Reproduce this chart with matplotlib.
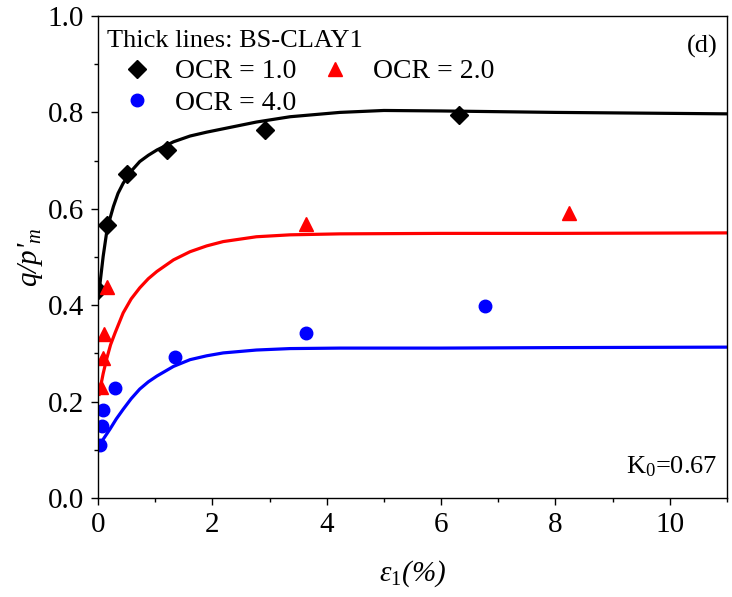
import numpy as np
import matplotlib
matplotlib.use("Agg")
import matplotlib.pyplot as plt

plt.rcParams['font.family'] = 'Liberation Serif'
plt.rcParams['mathtext.fontset'] = 'custom'
plt.rcParams['mathtext.rm'] = 'Liberation Serif'
plt.rcParams['mathtext.it'] = 'Liberation Serif:italic'

# measured points
ocr1_x = [0.0, 0.16, 0.51, 1.20, 2.92, 6.31]
ocr1_y = [0.432, 0.567, 0.673, 0.722, 0.763, 0.795]
ocr2_x = [0.06, 0.09, 0.10, 0.15, 3.64, 8.24]
ocr2_y = [0.230, 0.290, 0.341, 0.437, 0.569, 0.592]
ocr4_x = [0.03, 0.07, 0.09, 0.30, 1.35, 3.63, 6.77]
ocr4_y = [0.110, 0.150, 0.183, 0.229, 0.292, 0.343, 0.398]

# BS-CLAY1 model curves
model1_x = [0.0, 0.035, 0.09, 0.15, 0.21, 0.27, 0.35, 0.44, 0.58, 0.73, 0.88, 1.03, 1.32, 1.61, 1.9, 2.19, 2.77, 3.36, 4.23, 5.0, 6.0, 8.0, 11.0]
model1_y = [0.415, 0.445, 0.501, 0.550, 0.580, 0.605, 0.632, 0.653, 0.678, 0.698, 0.711, 0.722, 0.739, 0.751, 0.759, 0.766, 0.780, 0.791, 0.800, 0.804, 0.803, 0.800, 0.797]
model2_x = [0.02, 0.035, 0.09, 0.15, 0.22, 0.30, 0.44, 0.58, 0.73, 0.88, 1.03, 1.32, 1.61, 1.9, 2.19, 2.77, 3.36, 4.23, 6.0, 8.0, 11.0]
model2_y = [0.215, 0.225, 0.258, 0.288, 0.318, 0.343, 0.384, 0.413, 0.436, 0.455, 0.470, 0.494, 0.511, 0.523, 0.532, 0.542, 0.546, 0.548, 0.549, 0.549, 0.550]
model4_x = [0.035, 0.12, 0.21, 0.32, 0.44, 0.58, 0.73, 0.88, 1.03, 1.32, 1.61, 1.9, 2.19, 2.77, 3.36, 4.23, 6.0, 8.0, 11.0]
model4_y = [0.112, 0.127, 0.143, 0.164, 0.184, 0.206, 0.226, 0.241, 0.253, 0.273, 0.287, 0.295, 0.301, 0.307, 0.310, 0.311, 0.311, 0.312, 0.313]

fig = plt.figure(figsize=(7.32, 5.97), dpi=100)
ax = fig.add_axes([98/732, 1-498/597, 629/732, 482/597])

ax.plot(model1_x, model1_y, color='black', lw=2.3)
ax.plot(model2_x, model2_y, color='#ff0000', lw=2.3)
ax.plot(model4_x, model4_y, color='#0000ff', lw=2.3)

h1, = ax.plot(ocr1_x, ocr1_y, 'D', color='black', ms=9, ls='none', label='OCR = 1.0')
h2, = ax.plot(ocr2_x, ocr2_y, '^', color='#ff0000', ms=9.5, ls='none', label='OCR = 2.0')
h4, = ax.plot(ocr4_x, ocr4_y, 'o', color='#0000ff', ms=9, ls='none', label='OCR = 4.0')

ax.set_xlim(0, 11)
ax.set_ylim(0, 1.0)
ax.set_xticks([0, 2, 4, 6, 8, 10])
ax.set_xticks([1, 3, 5, 7, 9, 11], minor=True)
ax.set_yticks([0.0, 0.2, 0.4, 0.6, 0.8, 1.0])
ax.set_yticks([0.1, 0.3, 0.5, 0.7, 0.9], minor=True)
ax.set_yticklabels(['0.0', '0.2', '0.4', '0.6', '0.8', '1.0'])
ax.tick_params(which='both', direction='out', labelsize=21, width=1, top=False, right=False, pad=5)
ax.tick_params(which='major', length=5)
ax.tick_params(which='minor', length=3)
for s in ax.spines.values():
    s.set_linewidth(1)

ax.set_xlabel("ε$_{\\mathit{1}}$(%)", fontsize=21, style='italic', labelpad=15)
ax.set_ylabel("q/p'$_{m}$", fontsize=21, style='italic', labelpad=2)

leg = ax.legend(handles=[h1, h4, h2], ncol=2, loc='upper left', bbox_to_anchor=(-0.005, 0.996),
                frameon=False, fontsize=20, title="Thick lines: BS-CLAY1", title_fontsize=19,
                alignment='left', borderaxespad=0.15, handletextpad=0.32,
                handlelength=2.1, columnspacing=0.36, labelspacing=0.23, borderpad=0.3)

ax.text(0.985, 0.96, "(d)", transform=ax.transAxes, ha='right', va='top', fontsize=19)
ax.text(0.985, 0.04, "K$_0$=0.67", transform=ax.transAxes, ha='right', va='bottom', fontsize=19)

fig.savefig("out.png", dpi=100)
